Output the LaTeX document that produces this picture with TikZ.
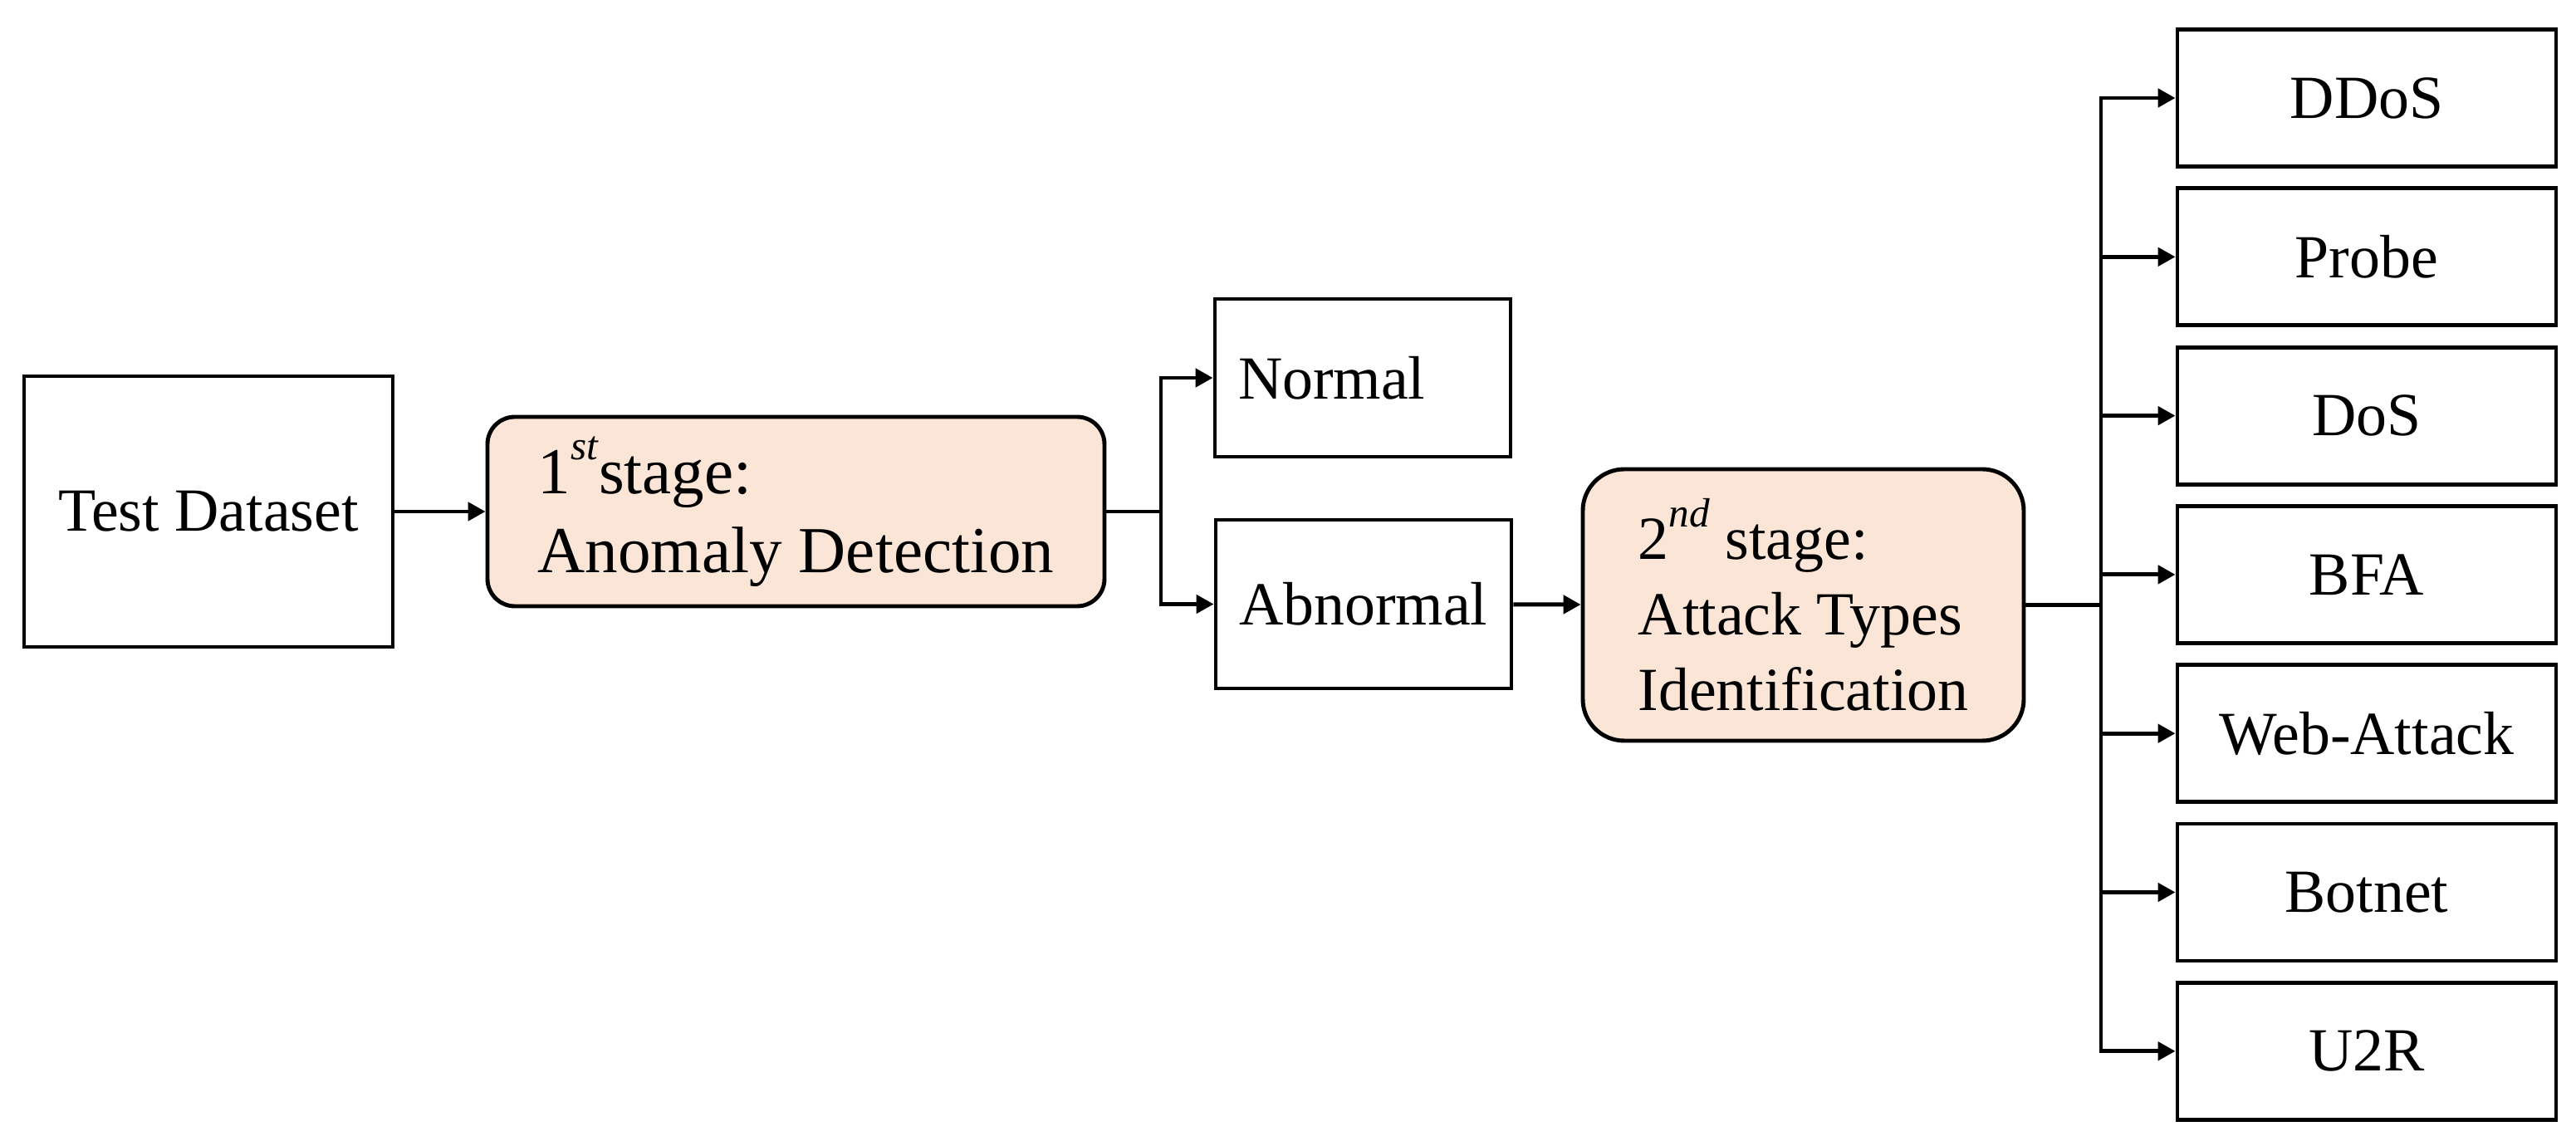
\documentclass[tikz,border=0pt]{standalone}
\usepackage{fontspec}
\setmainfont{Liberation Serif}
\usetikzlibrary{arrows.meta}

\definecolor{stagefill}{HTML}{FBE5D6}
\newcommand{\ordsup}[1]{\raisebox{0.52em}{\fontsize{14pt}{14pt}\selectfont\textit{#1}}}
\tikzset{
	box/.style={draw, line width=1.4pt, font=\fontsize{21pt}{26pt}\selectfont, inner sep=0pt},
	stagebox/.style={box, fill=stagefill, rounded corners=#1, align=left},
	resultbox/.style={box, text width=3.0cm, inner xsep=0.28cm, align=left},
	conn/.style={line width=1.4pt},
	arr/.style={conn, -{Triangle[length=0.21cm,width=0.22cm]}}
}

\begin{document}
\begin{tikzpicture}
			%%%%% START %%%%%
			\useasboundingbox (0, 0) rectangle (31.02, 13.79);
			
			\node[box, minimum width=4.44cm, minimum height=3.26cm] (test) at (2.51, 7.63) {Test Dataset};
			\node[stagebox=0.33cm, minimum width=7.43cm, minimum height=2.28cm, font=\fontsize{22.5pt}{27pt}\selectfont] (stage1) at (9.585, 7.63)
				{1\ordsup{st}stage:\\Anomaly Detection};
			
			\node[resultbox, minimum height=1.90cm] (normal) at (16.41, 9.24) {Normal};
			\node[resultbox, minimum height=2.03cm] (abnormal) at (16.42, 6.515) {Abnormal};
			
			\node[stagebox=0.5cm, minimum width=5.31cm, minimum height=3.27cm] (stage2) at (21.715, 6.505)
				{2\ordsup{nd} stage:\\Attack Types\\Identification};
			
			\node[box, minimum width=4.56cm, minimum height=1.65cm] (ddos) at (28.50, 12.61) {DDoS};
			\node[box, minimum width=4.56cm, minimum height=1.65cm] (probe) at (28.50, 10.697) {Probe};
			\node[box, minimum width=4.56cm, minimum height=1.65cm] (dos) at (28.50, 8.784) {DoS};
			\node[box, minimum width=4.56cm, minimum height=1.65cm] (bfa) at (28.50, 6.871) {BFA};
			\node[box, minimum width=4.56cm, minimum height=1.65cm] (web) at (28.50, 4.958) {Web-Attack};
			\node[box, minimum width=4.56cm, minimum height=1.65cm] (botnet) at (28.50, 3.045) {Botnet};
			\node[box, minimum width=4.56cm, minimum height=1.65cm] (u2r) at (28.50, 1.132) {U2R};
			
			% first stage split
			\draw[arr] (test) -- (stage1);
			\coordinate (split1) at (13.98, 7.63);
			\draw[conn] (stage1.east) -- (split1);
			\draw[arr] (split1) |- (normal.west);
			\draw[arr] (split1) |- (abnormal.west);
			
			% second stage split
			\draw[arr] (abnormal) -- (stage2);
			\coordinate (split2) at (25.30, 6.505);
			\draw[conn] (stage2.east) -- (split2);
			\draw[arr] (split2) |- (ddos.west);
			\draw[arr] (split2) |- (probe.west);
			\draw[arr] (split2) |- (dos.west);
			\draw[arr] (split2) |- (bfa.west);
			\draw[arr] (split2) |- (web.west);
			\draw[arr] (split2) |- (botnet.west);
			\draw[arr] (split2) |- (u2r.west);
			
			%%%%% END %%%%%
\end{tikzpicture}
\end{document}
